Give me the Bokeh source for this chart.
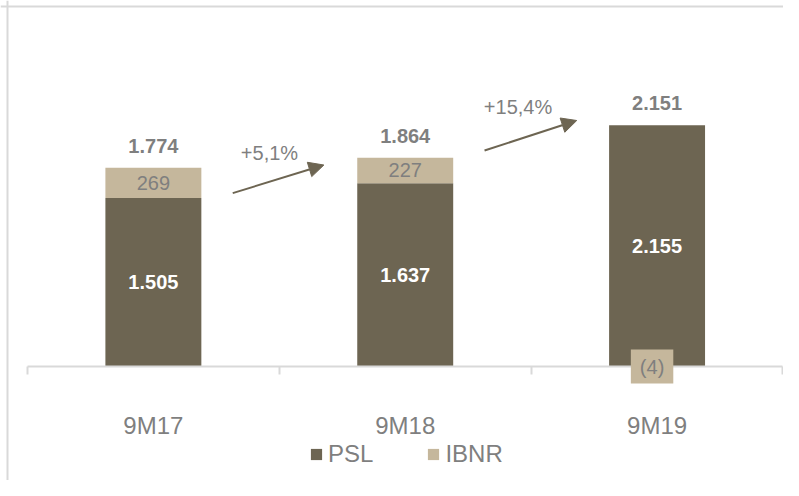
from bokeh.plotting import figure
from bokeh.models import (ColumnDataSource, Range1d, LinearAxis, FixedTicker, Legend,
                          LegendItem, Label, Arrow, NormalHead, Span)
from bokeh.core.properties import value
from bokeh.embed import file_html
from bokeh.resources import INLINE

# ---- data ----
categories = ["9M17", "9M18", "9M19"]
psl = [1505, 1637, 2155]
ibnr = [269, 227, -4]
growth_labels = ["+5,1%", "+15,4%"]
series_names = ["PSL", "IBNR"]

# ---- style ----
PSL_COLOR = "#6d6552"
IBNR_COLOR = "#c5b79c"
GRAY = "#7f7f7f"
LINE_GRAY = "#d9d9d9"
FONT = "Liberation Sans"

X0, X1 = -0.1070, 3.0020
Y0, Y1 = -1020.7, 3269.6


def fmt(v):
    s = f"{abs(v):,}".replace(",", ".")
    return f"({s})" if v < 0 else s


xs = [i + 0.5 for i in range(len(categories))]
ibnr_bottom = [p_ if b >= 0 else 0 for p_, b in zip(psl, ibnr)]
ibnr_top = [p_ + b if b >= 0 else b for p_, b in zip(psl, ibnr)]
totals = [p_ + b for p_, b in zip(psl, ibnr)]
stack_top = [p_ + max(b, 0) for p_, b in zip(psl, ibnr)]

src = ColumnDataSource(dict(
    x=xs, psl=psl, psl_mid=[v / 2 for v in psl], psl_txt=[fmt(v) for v in psl],
    ib_bot=ibnr_bottom, ib_top=ibnr_top,
    tot_y=stack_top, tot_txt=[fmt(v) for v in totals],
))
pos_idx = [i for i, b in enumerate(ibnr) if b >= 0]
ib_src = ColumnDataSource(dict(
    x=[xs[i] for i in pos_idx],
    y=[psl[i] + ibnr[i] / 2 for i in pos_idx],
    t=[fmt(ibnr[i]) for i in pos_idx],
))

p = figure(width=783, height=480,
           x_range=Range1d(X0, X1), y_range=Range1d(Y0, Y1),
           x_axis_type=None, y_axis_type=None,
           toolbar_location=None, output_backend="svg",
           min_border=0, outline_line_color=None,
           background_fill_color="white", border_fill_color="white")

BAR_W = 0.381
r_psl = p.vbar(x="x", width=BAR_W, bottom=0, top="psl", source=src,
               fill_color=PSL_COLOR, line_color=None)
r_ibnr = p.vbar(x="x", width=BAR_W, bottom="ib_bot", top="ib_top", source=src,
                fill_color=IBNR_COLOR, line_color=None)

# axis line + boundary ticks at zero
tick_axis = LinearAxis(ticker=FixedTicker(ticks=list(range(len(categories) + 1))),
                       fixed_location=0, bounds=(0, len(categories)),
                       axis_line_color=LINE_GRAY, axis_line_width=2,
                       major_tick_line_color=LINE_GRAY, major_tick_line_width=2,
                       major_tick_in=0, major_tick_out=8,
                       minor_tick_line_color=None, major_label_text_alpha=0)
p.add_layout(tick_axis, "below")

label_axis = LinearAxis(ticker=FixedTicker(ticks=xs),
                        major_label_overrides={x: c for x, c in zip(xs, categories)},
                        fixed_location=0, axis_line_color=None,
                        major_tick_line_color=None, minor_tick_line_color=None,
                        major_tick_in=0, major_tick_out=0, major_label_standoff=46,
                        major_label_text_font=FONT, major_label_text_font_size="24px",
                        major_label_text_color=GRAY)
p.add_layout(label_axis, "below")

# inside labels
p.text(x="x", y="psl_mid", text="psl_txt", source=src, text_align="center",
       text_baseline="middle", text_color="white", text_font=value(FONT),
       text_font_size="20px", text_font_style="bold")
p.text(x="x", y="y", text="t", source=ib_src, text_align="center",
       text_baseline="middle", text_color=GRAY, text_font=value(FONT),
       text_font_size="20px")
# totals
p.text(x="x", y="tot_y", text="tot_txt", source=src, text_align="center",
       text_baseline="alphabetic", y_offset=-22, text_color=GRAY,
       text_font=value(FONT), text_font_size="20px", text_font_style="bold")

# negative IBNR label with box
for i, b in enumerate(ibnr):
    if b < 0:
        p.add_layout(Label(x=xs[i], y=b / 2, text=fmt(b), x_offset=-5,
                           text_align="center", text_baseline="middle",
                           text_color=GRAY, text_font=FONT, text_font_size="20px",
                           background_fill_color=IBNR_COLOR, padding=(9, 6)))

# growth arrows and labels
arrows = [((0.815, 1548), (1.177, 1799)), ((1.815, 1929), (2.181, 2197))]
growth_pos = [(0.961, 1911), (1.948, 2322)]
for (s, e) in arrows:
    p.add_layout(Arrow(x_start=s[0], y_start=s[1], x_end=e[0], y_end=e[1],
                       line_color=PSL_COLOR, line_width=2,
                       end=NormalHead(size=15, fill_color=PSL_COLOR, line_color=PSL_COLOR)))
for (gx, gy), g in zip(growth_pos, growth_labels):
    p.add_layout(Label(x=gx, y=gy, text=g, text_align="center", text_baseline="middle",
                       text_color=GRAY, text_font=FONT, text_font_size="20px"))

# chart area border (left and top)
p.add_layout(Span(location=X0 + 7 / 251.85, dimension="height", line_color=LINE_GRAY, line_width=2))
p.add_layout(Span(location=Y1 - 6 / 0.11188, dimension="width", line_color=LINE_GRAY, line_width=2))

legend = Legend(items=[LegendItem(label=series_names[0], renderers=[r_psl]),
                       LegendItem(label=series_names[1], renderers=[r_ibnr])],
                orientation="horizontal", location=(309, 12),
                glyph_width=14, glyph_height=14, label_standoff=5, spacing=53,
                padding=0, margin=0, border_line_color=None, background_fill_alpha=0,
                label_text_font=FONT, label_text_font_size="24px", label_text_color=GRAY)
p.add_layout(legend, "center")

open("out.html", "w").write(file_html(p, INLINE))
